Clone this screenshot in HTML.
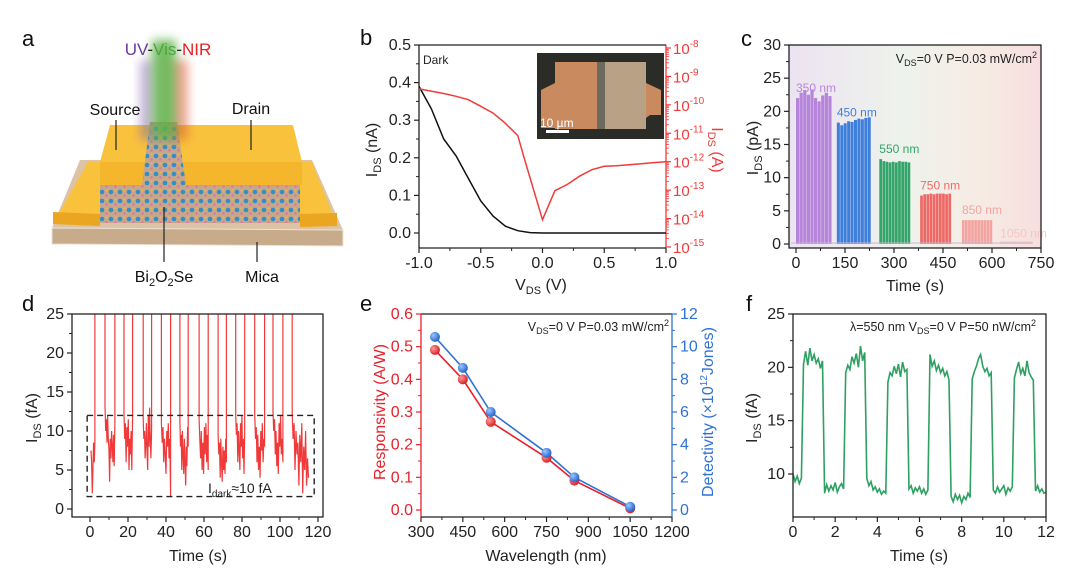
<!DOCTYPE html>
<html><head><meta charset="utf-8"><style>
html,body{margin:0;padding:0;background:#fff;}
svg{display:block;font-family:"Liberation Sans",Arial,sans-serif;}
</style></head><body>
<svg id="fig" xmlns="http://www.w3.org/2000/svg" width="1080" height="582" viewBox="0 0 1080 582">
<defs>
<filter id="blur6" x="-50%" y="-50%" width="200%" height="200%"><feGaussianBlur stdDeviation="5"/></filter>
<pattern id="lat" width="9" height="9" patternUnits="userSpaceOnUse">
<rect width="9" height="9" fill="#c7a68a"/>
<circle cx="3" cy="3" r="2.3" fill="#2f8fc9"/>
<circle cx="7.5" cy="6.5" r="1.2" fill="#e06fb0"/>
<circle cx="7.5" cy="1.5" r="1" fill="#f0b83a"/>
</pattern>
<linearGradient id="cbg" x1="0" x2="1" y1="0" y2="0">
<stop offset="0" stop-color="#ece3f1"/><stop offset="0.45" stop-color="#eef2ec"/><stop offset="0.75" stop-color="#f6ece4"/><stop offset="1" stop-color="#f7dede"/>
</linearGradient>
<radialGradient id="redball" cx="0.35" cy="0.35" r="0.7"><stop offset="0" stop-color="#ff9a9a"/><stop offset="1" stop-color="#d81820"/></radialGradient>
<radialGradient id="blueball" cx="0.35" cy="0.35" r="0.7"><stop offset="0" stop-color="#9cc4ff"/><stop offset="1" stop-color="#1f5fc8"/></radialGradient>
<clipPath id="clipD"><rect x="72" y="314" width="251" height="203"/></clipPath>
<clipPath id="clipB"><rect x="419" y="45" width="247" height="203"/></clipPath>
</defs>

<g>
<text x="22" y="46" font-size="22" fill="#111">a</text>
<polygon points="80,160 312,160 343,230 52,228" fill="#dcc3a6"/>
<polygon points="52,228 343,230 343,246 52,244" fill="#c8ab8a" stroke="#eee3d4" stroke-width="1"/>
<polygon points="110,125 293,125 302,162 312,162 337,226 300,227 300,185 100,185 100,226 53,224 88,162 100,162" fill="#f9c23c"/>
<polygon points="100,162 302,162 302,185 100,185" fill="#f5b52c"/>
<polygon points="53,212 100,214 100,226 53,224" fill="#eaa620"/>
<polygon points="300,214 337,213 337,226 300,227" fill="#eaa620"/>
<rect x="100" y="185" width="200" height="38" fill="url(#lat)"/>
<polygon points="150,122 177,122 186,185 142,185" fill="url(#lat)"/>
<rect x="170" y="60" width="18" height="80" fill="#e0603a" opacity="0.55" filter="url(#blur6)"/>
<rect x="140" y="60" width="14" height="80" fill="#8a6bb0" opacity="0.5" filter="url(#blur6)"/>
<rect x="152" y="40" width="24" height="100" fill="#5fb04a" opacity="0.85" filter="url(#blur6)"/>
<line x1="116" y1="120" x2="116" y2="150" stroke="#222" stroke-width="1.2"/>
<line x1="251" y1="120" x2="251" y2="150" stroke="#222" stroke-width="1.2"/>
<line x1="164" y1="207" x2="164" y2="262" stroke="#222" stroke-width="1.2"/>
<line x1="257" y1="242" x2="257" y2="262" stroke="#222" stroke-width="1.2"/>
<text x="168" y="55" font-size="17" text-anchor="middle"><tspan fill="#6a3aa0">UV</tspan><tspan fill="#222">-</tspan><tspan fill="#4aa83a">Vis</tspan><tspan fill="#222">-</tspan><tspan fill="#e82020">NIR</tspan></text>
<text x="115" y="115" font-size="16" text-anchor="middle" fill="#111">Source</text>
<text x="251" y="114" font-size="16" text-anchor="middle" fill="#111">Drain</text>
<text x="164" y="282" font-size="16" text-anchor="middle" fill="#111">Bi<tspan font-size="11" dy="4">2</tspan><tspan dy="-4">O</tspan><tspan font-size="11" dy="4">2</tspan><tspan dy="-4">Se</tspan></text>
<text x="262" y="282" font-size="16" text-anchor="middle" fill="#111">Mica</text>
</g>

<text x="360" y="45" font-size="22" fill="#111">b</text>
<text x="741" y="46" font-size="22" fill="#111">c</text>
<text x="22" y="311" font-size="22" fill="#111">d</text>
<text x="360" y="311" font-size="22" fill="#111">e</text>
<text x="746" y="311" font-size="22" fill="#111">f</text>

<rect x="789" y="45" width="252" height="203" fill="url(#cbg)"/>

<g id="plots"></g>

<g>
<rect x="537" y="53" width="127" height="86" fill="#2b2b27"/>
<rect x="555" y="62" width="91" height="67" fill="#c98a5f"/>
<polygon points="541,90 555,83 555,128 541,128" fill="#c98a5f"/>
<polygon points="646,83 661,90 661,115 650,115 646,118" fill="#c98a5f"/>
<rect x="605" y="62" width="41" height="67" fill="#b9a185"/>
<rect x="597" y="62" width="8" height="67" fill="#6c6a5c"/>
<rect x="546" y="130" width="23" height="3" fill="#fff"/>
<text x="540" y="127" font-size="12" fill="#fff">10 µm</text>
</g>
<text x="423" y="64" font-size="12" fill="#222">Dark</text>

<text x="1037" y="63" font-size="12.5" text-anchor="end" fill="#222">V<tspan font-size="9" dy="3">DS</tspan><tspan dy="-3">=0 V  P=0.03 mW/cm</tspan><tspan font-size="9" dy="-5">2</tspan></text>
<text x="669" y="331" font-size="12.5" text-anchor="end" fill="#222">V<tspan font-size="9" dy="3">DS</tspan><tspan dy="-3">=0 V  P=0.03 mW/cm</tspan><tspan font-size="9" dy="-5">2</tspan></text>
<text x="1036" y="331" font-size="12.5" text-anchor="end" fill="#222">λ=550 nm   V<tspan font-size="9" dy="3">DS</tspan><tspan dy="-3">=0 V   P=50 nW/cm</tspan><tspan font-size="9" dy="-5">2</tspan></text>
<text x="208" y="493" font-size="14" fill="#222">I<tspan font-size="10" dy="4">dark</tspan><tspan dy="-4">≈10 fA</tspan></text>

<text x="541" y="290" font-size="16" text-anchor="middle" fill="#222">V<tspan font-size="11" dy="4">DS</tspan><tspan dy="-4"> (V)</tspan></text>
<text transform="translate(377,150) rotate(-90)" font-size="16" text-anchor="middle" fill="#222">I<tspan font-size="11" dy="4">DS</tspan><tspan dy="-4"> (nA)</tspan></text>
<text transform="translate(712,150) rotate(90)" font-size="16" text-anchor="middle" fill="#f03a3a">I<tspan font-size="11" dy="4">DS</tspan><tspan dy="-4"> (A)</tspan></text>
<text x="915" y="291" font-size="16" text-anchor="middle" fill="#222">Time (s)</text>
<text transform="translate(758,148) rotate(-90)" font-size="16" text-anchor="middle" fill="#222">I<tspan font-size="11" dy="4">DS</tspan><tspan dy="-4"> (pA)</tspan></text>
<text x="198" y="561" font-size="16" text-anchor="middle" fill="#222">Time (s)</text>
<text transform="translate(37,418) rotate(-90)" font-size="16" text-anchor="middle" fill="#222">I<tspan font-size="11" dy="4">DS</tspan><tspan dy="-4"> (fA)</tspan></text>
<text x="546" y="561" font-size="16" text-anchor="middle" fill="#222">Wavelength (nm)</text>
<text transform="translate(385,412) rotate(-90)" font-size="16" text-anchor="middle" fill="#e8202a">Responsivity (A/W)</text>
<text transform="translate(713,412) rotate(-90)" font-size="16" text-anchor="middle" fill="#2f72d6">Detectivity (×10<tspan font-size="10" dy="-6">12</tspan><tspan dy="6">Jones)</tspan></text>
<text x="919" y="561" font-size="16" text-anchor="middle" fill="#222">Time (s)</text>
<text transform="translate(757,418) rotate(-90)" font-size="16" text-anchor="middle" fill="#222">I<tspan font-size="11" dy="4">DS</tspan><tspan dy="-4"> (fA)</tspan></text>
</svg>
<script>
const bV=[-1,-0.9,-0.8,-0.7,-0.6,-0.5,-0.4,-0.3,-0.2,-0.1,0,0.1,0.2,0.3,0.4,0.5,0.6,0.7,0.8,0.9,1];
const bLin=[0.39,0.33,0.25,0.205,0.145,0.085,0.045,0.018,0.006,0.001,0,0,0,0,0,0,0,0,0,0,0];
const bLogV=[-1,-0.8,-0.7,-0.6,-0.5,-0.4,-0.3,-0.2,-0.15,0,0.1,0.2,0.3,0.4,0.5,0.6,0.7,0.8,0.9,1];
const bLogExp=[-9.44,-9.6,-9.7,-9.82,-10.05,-10.29,-10.65,-11.08,-11.85,-14.04,-13.02,-12.8,-12.51,-12.28,-12.16,-12.14,-12.11,-12.07,-12.03,-12.0];
const bXTicks=[-1.0,-0.5,0.0,0.5,1.0];
const bYTicks=[0.0,0.1,0.2,0.3,0.4,0.5];
const bLogTicks=[-15,-14,-13,-12,-11,-10,-9,-8];
const cWavelengths=["350 nm","450 nm","550 nm","750 nm","850 nm","1050 nm"];
const cGroupStart=[0,125,255,380,508,625];
const cGroupPeriod=[11,10.5,9.6,9.6,9.4,10];
const cPeaks350=[22,22.8,23.2,22.5,23.3,22,21.5,22.4,22.8,22.3];
const cPeaks450=[18.3,17.9,18.2,18.5,18.4,18.7,18.9,18.8,19,19.1];
const cPeaks550=[12.8,12.5,12.4,12.3,12.4,12.3,12.5,12.4,12.4,12.3];
const cPeaks750=[7.3,7.5,7.5,7.6,7.5,7.6,7.6,7.6,7.5,7.6];
const cPeaks850=[3.6,3.6,3.6,3.6,3.6,3.6,3.6,3.6,3.6,3.6];
const cPeaks1050=[0.4,0.4,0.4,0.4,0.4,0.4,0.4,0.4,0.4,0.4];
const cXTicks=[0,150,300,450,600,750];
const cYTicks=[0,5,10,15,20,25,30];
const dOnStart=[2.6,13.1,22.4,32.4,42.4,51.7,62.2,71.8,81.4,91.9,101.5];
const dOnEnd=[7.9,17.9,28,37.6,47.3,57.4,67.4,76.7,86.7,96.3,106.4];
const dDarkStart=[0.5,7.9,17.9,28,37.6,47.3,57.4,67.4,76.7,86.7,96.3,106.4];
const dDarkEnd=[2.6,13.1,22.4,32.4,42.4,51.7,62.2,71.8,81.4,91.9,101.5,115];
const dDark0=[7.5,6,2,5,8.5,6,8.8];
const dDark1=[13.3,10,11.5,8.5,12,9,7.5,3.5,9,6.5,10,8,6,9.5,5.5,11];
const dDark2=[12.2,9,11,6,10.5,8,11.5,5,9,7,10,5,12];
const dDark3=[11.5,9,10,6.5,8.5,11,7,5,12,8,13,9,6.5,10];
const dDark4=[11,8.5,10.5,6,9,7,4.5,10,8,11,6.5,9,1.5];
const dDark5=[11.2,8,9.5,5,10,7,4.5,9,6,3,8,5.5,10.5,8];
const dDark6=[11.5,9,6.5,10,5,8.5,4.5,10.5,7,11,6,9.5,5];
const dDark7=[9.5,7,8.5,4,9,6,3.5,8,5,7.5,4.5,9,6];
const dDark8=[12,9.5,11,6,10,7.5,5,11,8,12,6.5,9,4.5,10];
const dDark9=[12.2,9,10.5,6,9.5,5,8,4,10,7.5,11,6,9,8];
const dDark10=[12.5,10,11.5,7,10,5.5,8.5,4.5,11,8,12,7,9,6];
const dDark11=[12.3,9,11,5,10,7,8.5,3,9.5,6,11,2,8,5,10,3,6.5,4];
const dXTicks=[0,20,40,60,80,100,120];
const dYTicks=[0,5,10,15,20,25];
const eWave=[350,450,550,750,850,1050];
const eResp=[0.49,0.40,0.27,0.16,0.09,0.005];
const eDet=[10.6,8.7,6.0,3.5,2.0,0.2];
const eXTicks=[300,450,600,750,900,1050,1200];
const eYTicks=[0.0,0.1,0.2,0.3,0.4,0.5,0.6];
const eY2Ticks=[0,2,4,6,8,10,12];
const fStep=0.1;
const fCurrent=[10,9.3,9.8,9.1,9.6,20.3,21.5,20.2,21.8,20.6,
21.2,20.4,20.8,19.9,20.6,8.2,9,8.4,8.9,8.5,
9.2,8.3,8.8,9.1,8.6,19.5,20.2,19.8,21,20.4,
21.3,20,22,20.6,21.4,9.6,8.9,9.3,8.5,8.8,
8.3,8.6,8.1,8.4,8.2,18.6,19.5,19.2,20.1,19.4,
20.3,19.1,20.5,19.6,19.8,8.6,8.9,8.2,8.7,8.4,
8.8,8.2,8.6,8.1,8.5,21.2,20.1,20.6,19.7,20.2,
19.5,19.9,19.2,19.6,18.8,7.9,7.4,8.1,7.6,8,
7.3,7.9,7.6,8.2,7.8,18.9,19.6,20.1,20.8,21.2,
20.1,19.6,19.9,19.2,19.5,8.5,8.2,8.8,8.3,8.6,
8.9,8.1,8.7,8.4,8.8,19,19.8,20.5,19.4,19.9,
19.2,20.6,19.5,19.1,18.8,8.4,8.9,8.3,8.6,8.2,8.3];
const fXTicks=[0,2,4,6,8,10,12];
const fYTicks=[10,15,20,25];

const NS="http://www.w3.org/2000/svg";
const root=document.getElementById('plots');
const TF=16;
function mk(tag,attrs,parent){const e=document.createElementNS(NS,tag);for(const k in attrs)e.setAttribute(k,attrs[k]);(parent||root).appendChild(e);return e;}
function lin(d0,d1,r0,r1){return v=>r0+(v-d0)*(r1-r0)/(d1-d0);}
function fmt(v,dec){return v.toFixed(dec);}
function frame(name,x0,y0,x1,y1){
  const r=mk('rect',{x:x0,y:y0,width:x1-x0,height:y1-y0,fill:'none',stroke:'#222','stroke-width':1.3});
  
  
}
function xAxis(prefix,ticks,X,yb,dec,minorN){
  ticks.forEach((t,i)=>{
    const l=mk('line',{x1:X(t),x2:X(t),y1:yb,y2:yb+5,stroke:'#222','stroke-width':1.2});
    
    
    const tx=mk('text',{x:X(t),y:yb+20,'font-size':TF,'text-anchor':'middle',fill:'#222'});
    tx.textContent=fmt(t,dec);
    
    
    if(i<ticks.length-1){for(let k=1;k<minorN;k++){const m=t+(ticks[i+1]-t)*k/minorN;
      const ml=mk('line',{x1:X(m),x2:X(m),y1:yb,y2:yb+3,stroke:'#222','stroke-width':1});
      
      }}
  });
}
function yAxis(prefix,ticks,Y,xl,dec,color,right,minorN){
  const s=right?1:-1;
  ticks.forEach((t,i)=>{
    const l=mk('line',{x1:xl,x2:xl+s*5,y1:Y(t),y2:Y(t),stroke:color,'stroke-width':1.2});
    
    
    const tx=mk('text',{x:xl+s*8,y:Y(t)+5,'font-size':TF,'text-anchor':right?'start':'end',fill:color});
    tx.textContent=fmt(t,dec);
    
    
    if(i<ticks.length-1){for(let k=1;k<minorN;k++){const m=t+(ticks[i+1]-t)*k/minorN;
      const ml=mk('line',{x1:xl,x2:xl+s*3,y1:Y(m),y2:Y(m),stroke:color,'stroke-width':1});
      
      }}
  });
}
function pathFrom(xs,ys,X,Y){return xs.map((x,i)=>(i?'L':'M')+X(x).toFixed(1)+','+Y(ys[i]).toFixed(1)).join('');}

(function(){
  const X=lin(-1,1,419,666), Y=lin(0,0.5,233,45), YL=lin(-8,-15,48,247);
  xAxis('b',bXTicks,X,248,1,2);
  yAxis('b',bYTicks,Y,419,1,'#222',false,2);
  const ax=mk('line',{x1:666,x2:666,y1:45,y2:248,stroke:'#f03a3a','stroke-width':1.3});
  
  
  bLogTicks.forEach((e,i)=>{
    const l=mk('line',{x1:666,x2:671,y1:YL(e),y2:YL(e),stroke:'#f03a3a','stroke-width':1.2});
    
    
    const t=mk('text',{x:673,y:YL(e)+6,'font-size':15,fill:'#f03a3a'});
    t.innerHTML='10<tspan font-size="10" dy="-7">'+e+'</tspan>';
    
    
    if(i<bLogTicks.length-1){for(let k=2;k<10;k++){const yv=YL(e+Math.log10(k));
      const m=mk('line',{x1:666,x2:669,y1:yv,y2:yv,stroke:'#f03a3a','stroke-width':0.8});
      
      }}
  });
  const top=mk('line',{x1:419,x2:666,y1:45,y2:45,stroke:'#222','stroke-width':1.3});
  
  
  const left=mk('line',{x1:419,x2:419,y1:45,y2:248,stroke:'#222','stroke-width':1.3});
  
  
  const bot=mk('line',{x1:419,x2:666,y1:248,y2:248,stroke:'#222','stroke-width':1.3});
  
  
  const p1=mk('path',{d:pathFrom(bV,bLin,X,Y),fill:'none',stroke:'#111','stroke-width':1.5,'clip-path':'url(#clipB)'});
  
  
  const p2=mk('path',{d:pathFrom(bLogV,bLogExp,X,YL),fill:'none',stroke:'#f03a3a','stroke-width':1.5,'clip-path':'url(#clipB)'});
  
  
})();

(function(){
  const X=lin(0,750,796,1041), Y=lin(0,30,244,45);
  const groups=[cPeaks350,cPeaks450,cPeaks550,cPeaks750,cPeaks850,cPeaks1050];
  const cols=['#b784db','#3f7fdc','#33a46a','#ee6a66','#f3a3a0','#f6c6c4'];
  groups.forEach((pk,g)=>{
    pk.forEach((v,i)=>{
      const t0=cGroupStart[g]+i*cGroupPeriod[g], t1=t0+cGroupPeriod[g]-1.2;
      const r=mk('rect',{x:X(t0),y:Y(v),width:Math.max(0.5,X(t1)-X(t0)),height:Y(0)-Y(v),fill:cols[g]});
      
      
    });
    const gx=cGroupStart[g], gy=pk[0];
    const lab=mk('text',{x:X(gx),y:Y(gy)-(g==5?4:6),'font-size':12,fill:cols[g]});
    lab.textContent=cWavelengths[g];
    
    
  });
  const base=mk('line',{x1:X(-15),x2:X(725),y1:Y(0.15),y2:Y(0.15),stroke:'#c9b6d6','stroke-width':1});
  
  
  frame('c-plot-frame',789,45,1041,248);
  xAxis('c',cXTicks,X,248,0,2);
  yAxis('c',cYTicks,Y,789,0,'#222',false,2);
})();

(function(){
  const X=lin(0,120,90,318), Y=lin(0,25,509,314);
  const darks=[dDark0,dDark1,dDark2,dDark3,dDark4,dDark5,dDark6,dDark7,dDark8,dDark9,dDark10,dDark11];
  let d='';
  darks.forEach((arr,s)=>{
    const a=dDarkStart[s], b=dDarkEnd[s];
    arr.forEach((v,i)=>{const t=a+(b-a)*i/(arr.length-1);
      if(s>0&&i==0){d+='M'+X(t).toFixed(1)+','+Y(40).toFixed(1);}
      d+=(d===''?'M':'L')+X(t).toFixed(1)+','+Y(v).toFixed(1);});
    if(s<dOnStart.length){d+='L'+X(dOnStart[s]).toFixed(1)+','+Y(40).toFixed(1);}
  });
  const p=mk('path',{d:d,fill:'none',stroke:'#f03a3a','stroke-width':1.2,'clip-path':'url(#clipD)'});
  
  
  const box=mk('rect',{x:X(-1.5),y:Y(12),width:X(118)-X(-1.5),height:Y(1.6)-Y(12),fill:'none',stroke:'#222','stroke-width':1.4,'stroke-dasharray':'6,4'});
  
  
  frame('d-plot-frame',72,314,323,517);
  xAxis('d',dXTicks,X,517,0,2);
  yAxis('d',dYTicks,Y,72,0,'#222',false,2);
})();

(function(){
  const X=lin(300,1200,421,672), YL=lin(0,0.6,510,314), YR=lin(0,12,510,314);
  const ln=mk('line',{x1:421,x2:672,y1:314,y2:314,stroke:'#222','stroke-width':1.3});
  
  
  const lb=mk('line',{x1:421,x2:672,y1:517,y2:517,stroke:'#222','stroke-width':1.3});
  
  
  const ll=mk('line',{x1:421,x2:421,y1:314,y2:517,stroke:'#e8202a','stroke-width':1.3});
  
  
  const lr=mk('line',{x1:672,x2:672,y1:314,y2:517,stroke:'#2f72d6','stroke-width':1.3});
  
  
  xAxis('e',eXTicks,X,517,0,2);
  yAxis('e',eYTicks,YL,421,1,'#e8202a',false,2);
  yAxis('e2',eY2Ticks,YR,672,0,'#2f72d6',true,2);
  const pr=mk('path',{d:pathFrom(eWave,eResp,X,YL),fill:'none',stroke:'#e8202a','stroke-width':1.6});
  
  
  const pd=mk('path',{d:pathFrom(eWave,eDet,X,YR),fill:'none',stroke:'#2f72d6','stroke-width':1.6});
  
  
  eWave.forEach((w,i)=>{
    const c=mk('circle',{cx:X(w),cy:YL(eResp[i]),r:5,fill:'url(#redball)'});
    
    
    const c2=mk('circle',{cx:X(w),cy:YR(eDet[i]),r:5,fill:'url(#blueball)'});
    
    
  });
})();

(function(){
  const X=lin(0,12,793,1046), Y=lin(10,25,474,314);
  const ts=fCurrent.map((v,i)=>i*fStep);
  const p=mk('path',{d:pathFrom(ts,fCurrent,X,Y),fill:'none',stroke:'#2ea062','stroke-width':1.6});
  
  
  frame('f-plot-frame',793,314,1046,517);
  xAxis('f',fXTicks,X,517,0,2);
  yAxis('f',fYTicks,Y,793,0,'#222',false,2);
})();
</script>
</body></html>
